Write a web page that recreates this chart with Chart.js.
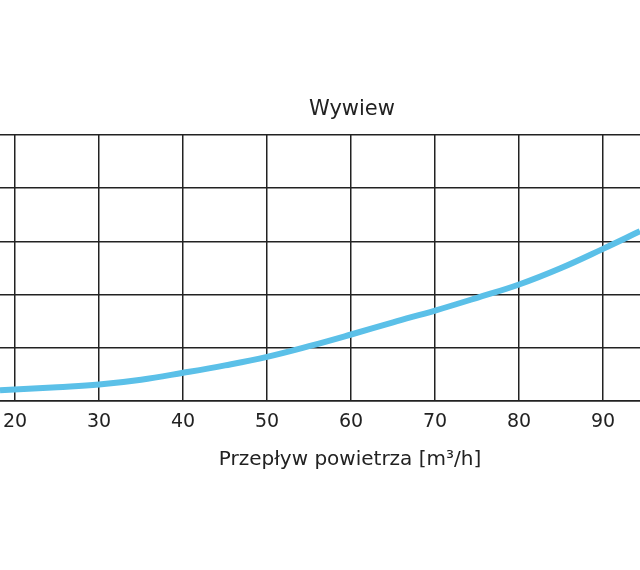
<!DOCTYPE html><html><head><meta charset="utf-8">
<script src="https://cdn.jsdelivr.net/npm/chart.js@4"></script>
<style>html,body{margin:0;padding:0;background:#fff}#w{width:640px;height:570px}</style></head><body>
<div id="w"><canvas id="c"></canvas></div>
<script>
const flow = [18.2, 25, 30, 35, 40, 45, 50, 55, 60, 65, 70, 75, 80, 85, 90, 94.4];
const pressure = [2.0, 2.6, 3.1, 4.0, 5.3, 6.7, 8.3, 10.3, 12.5, 14.8, 17.0, 19.4, 21.9, 25.0, 28.6, 31.9];
const xTicks = [20, 30, 40, 50, 60, 70, 80, 90];
const titleText = 'Wywiew';
const xTitle = 'Przepływ powietrza [m³/h]';
const titlePlugin = {id:'t', afterDraw(ch){const c=ch.ctx;c.save();c.fillStyle='#222';c.textAlign='center';c.textBaseline='middle';
  c.font='21px "DejaVu Sans"';c.fillText(titleText,352,110);
  c.font='20px "DejaVu Sans"';c.fillText(xTitle,350,460);c.restore();}};
new Chart(document.getElementById('c'), {
  type:'line',
  data:{datasets:[{data:flow.map((x,i)=>({x,y:pressure[i]})),borderColor:'#5bc0e8',borderWidth:6,pointRadius:0,tension:0.4,fill:false}]},
  options:{responsive:true,maintainAspectRatio:false,animation:false,
    layout:{padding:{top:135,bottom:99,left:0,right:0}},
    plugins:{legend:{display:false},tooltip:{enabled:false},title:{display:false}},
    scales:{
      x:{type:'linear',min:18.2,max:94.4,afterFit:s=>{s.height=70;s.paddingLeft=0;s.paddingRight=0;},
        afterBuildTicks:s=>{s.ticks=xTicks.map(v=>({value:v}));},
        grid:{color:'#222',lineWidth:1.5,drawTicks:false},border:{display:true,color:'#222',width:1.5},
        ticks:{padding:10,color:'#222',font:{size:19,family:'DejaVu Sans'},maxRotation:0,autoSkip:false}},
      y:{min:0,max:50,afterFit:s=>{s.width=0;},ticks:{display:false,stepSize:10},
        grid:{color:'#222',lineWidth:1.5,drawTicks:false},border:{display:false}}
    }},
  plugins:[titlePlugin]
});
</script></body></html>
